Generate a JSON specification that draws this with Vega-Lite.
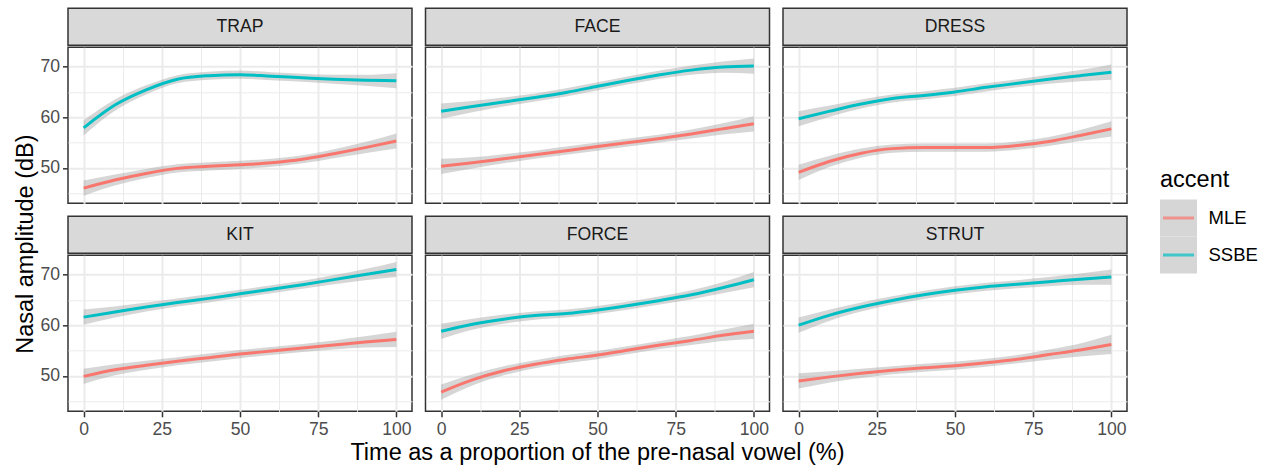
{
 "$schema": "https://vega.github.io/schema/vega-lite/v6.json",
 "padding": {"left": 13, "top": 7, "right": 5, "bottom": 0},
 "config": {
  "font": "Liberation Sans",
  "view": {"stroke": "#333333", "strokeWidth": 1.5},
  "axis": {"domain": false, "labelFont": "Liberation Sans", "labelFontSize": 17.6, "labelColor": "#4D4D4D", "tickColor": "#333333", "tickWidth": 1.5, "tickSize": 5.5, "gridColor": "#EBEBEB", "labelOverlap": false, "labelFlush": false, "labelBound": false},
  "title": {"font": "Liberation Sans", "fontSize": 23.5, "fontWeight": "normal", "color": "#000000"}
 },
 "datasets": {
  "d": [
   {"v":"TRAP","a":"MLE","t":0,"y":46.0,"lo":44.5,"hi":47.5},
   {"v":"TRAP","a":"MLE","t":10,"y":47.6,"lo":46.5,"hi":48.7},
   {"v":"TRAP","a":"MLE","t":20,"y":48.9,"lo":48.0,"hi":49.8},
   {"v":"TRAP","a":"MLE","t":30,"y":49.9,"lo":49.1,"hi":50.7},
   {"v":"TRAP","a":"MLE","t":40,"y":50.3,"lo":49.5,"hi":51.1},
   {"v":"TRAP","a":"MLE","t":50,"y":50.6,"lo":49.8,"hi":51.4},
   {"v":"TRAP","a":"MLE","t":60,"y":51.0,"lo":50.2,"hi":51.8},
   {"v":"TRAP","a":"MLE","t":70,"y":51.7,"lo":50.9,"hi":52.5},
   {"v":"TRAP","a":"MLE","t":80,"y":52.8,"lo":51.9,"hi":53.7},
   {"v":"TRAP","a":"MLE","t":90,"y":54.0,"lo":52.9,"hi":55.1},
   {"v":"TRAP","a":"MLE","t":100,"y":55.3,"lo":53.8,"hi":56.8},
   {"v":"TRAP","a":"SSBE","t":0,"y":57.9,"lo":56.4,"hi":59.4},
   {"v":"TRAP","a":"SSBE","t":10,"y":62.4,"lo":61.3,"hi":63.5},
   {"v":"TRAP","a":"SSBE","t":20,"y":65.4,"lo":64.5,"hi":66.3},
   {"v":"TRAP","a":"SSBE","t":30,"y":67.5,"lo":66.7,"hi":68.3},
   {"v":"TRAP","a":"SSBE","t":40,"y":68.2,"lo":67.4,"hi":69.0},
   {"v":"TRAP","a":"SSBE","t":50,"y":68.4,"lo":67.6,"hi":69.2},
   {"v":"TRAP","a":"SSBE","t":60,"y":68.1,"lo":67.3,"hi":68.9},
   {"v":"TRAP","a":"SSBE","t":70,"y":67.8,"lo":67.0,"hi":68.6},
   {"v":"TRAP","a":"SSBE","t":80,"y":67.5,"lo":66.6,"hi":68.4},
   {"v":"TRAP","a":"SSBE","t":90,"y":67.3,"lo":66.2,"hi":68.4},
   {"v":"TRAP","a":"SSBE","t":100,"y":67.2,"lo":65.7,"hi":68.7},
   {"v":"FACE","a":"MLE","t":0,"y":50.3,"lo":48.8,"hi":51.8},
   {"v":"FACE","a":"MLE","t":10,"y":51.0,"lo":49.9,"hi":52.1},
   {"v":"FACE","a":"MLE","t":20,"y":51.8,"lo":50.9,"hi":52.7},
   {"v":"FACE","a":"MLE","t":30,"y":52.6,"lo":51.8,"hi":53.4},
   {"v":"FACE","a":"MLE","t":40,"y":53.4,"lo":52.6,"hi":54.2},
   {"v":"FACE","a":"MLE","t":50,"y":54.2,"lo":53.4,"hi":55.0},
   {"v":"FACE","a":"MLE","t":60,"y":55.0,"lo":54.2,"hi":55.8},
   {"v":"FACE","a":"MLE","t":70,"y":55.8,"lo":55.0,"hi":56.6},
   {"v":"FACE","a":"MLE","t":80,"y":56.7,"lo":55.8,"hi":57.6},
   {"v":"FACE","a":"MLE","t":90,"y":57.7,"lo":56.6,"hi":58.8},
   {"v":"FACE","a":"MLE","t":100,"y":58.7,"lo":57.2,"hi":60.2},
   {"v":"FACE","a":"SSBE","t":0,"y":61.2,"lo":59.7,"hi":62.7},
   {"v":"FACE","a":"SSBE","t":10,"y":62.1,"lo":61.0,"hi":63.2},
   {"v":"FACE","a":"SSBE","t":20,"y":63.0,"lo":62.1,"hi":63.9},
   {"v":"FACE","a":"SSBE","t":30,"y":63.9,"lo":63.1,"hi":64.7},
   {"v":"FACE","a":"SSBE","t":40,"y":64.9,"lo":64.1,"hi":65.7},
   {"v":"FACE","a":"SSBE","t":50,"y":66.1,"lo":65.3,"hi":66.9},
   {"v":"FACE","a":"SSBE","t":60,"y":67.3,"lo":66.5,"hi":68.1},
   {"v":"FACE","a":"SSBE","t":70,"y":68.4,"lo":67.6,"hi":69.2},
   {"v":"FACE","a":"SSBE","t":80,"y":69.3,"lo":68.4,"hi":70.2},
   {"v":"FACE","a":"SSBE","t":90,"y":69.9,"lo":68.8,"hi":71.0},
   {"v":"FACE","a":"SSBE","t":100,"y":70.1,"lo":68.6,"hi":71.6},
   {"v":"DRESS","a":"MLE","t":0,"y":49.1,"lo":47.6,"hi":50.6},
   {"v":"DRESS","a":"MLE","t":10,"y":51.3,"lo":50.2,"hi":52.4},
   {"v":"DRESS","a":"MLE","t":20,"y":52.9,"lo":52.0,"hi":53.8},
   {"v":"DRESS","a":"MLE","t":30,"y":53.8,"lo":53.0,"hi":54.6},
   {"v":"DRESS","a":"MLE","t":40,"y":54.0,"lo":53.2,"hi":54.8},
   {"v":"DRESS","a":"MLE","t":50,"y":54.0,"lo":53.2,"hi":54.8},
   {"v":"DRESS","a":"MLE","t":60,"y":54.0,"lo":53.2,"hi":54.8},
   {"v":"DRESS","a":"MLE","t":70,"y":54.4,"lo":53.6,"hi":55.2},
   {"v":"DRESS","a":"MLE","t":80,"y":55.2,"lo":54.3,"hi":56.1},
   {"v":"DRESS","a":"MLE","t":90,"y":56.4,"lo":55.3,"hi":57.5},
   {"v":"DRESS","a":"MLE","t":100,"y":57.7,"lo":56.2,"hi":59.2},
   {"v":"DRESS","a":"SSBE","t":0,"y":59.7,"lo":58.2,"hi":61.2},
   {"v":"DRESS","a":"SSBE","t":10,"y":61.2,"lo":60.1,"hi":62.3},
   {"v":"DRESS","a":"SSBE","t":20,"y":62.6,"lo":61.7,"hi":63.5},
   {"v":"DRESS","a":"SSBE","t":30,"y":63.7,"lo":62.9,"hi":64.5},
   {"v":"DRESS","a":"SSBE","t":40,"y":64.3,"lo":63.5,"hi":65.1},
   {"v":"DRESS","a":"SSBE","t":50,"y":65.0,"lo":64.2,"hi":65.8},
   {"v":"DRESS","a":"SSBE","t":60,"y":65.9,"lo":65.1,"hi":66.7},
   {"v":"DRESS","a":"SSBE","t":70,"y":66.7,"lo":65.9,"hi":67.5},
   {"v":"DRESS","a":"SSBE","t":80,"y":67.5,"lo":66.6,"hi":68.4},
   {"v":"DRESS","a":"SSBE","t":90,"y":68.2,"lo":67.1,"hi":69.3},
   {"v":"DRESS","a":"SSBE","t":100,"y":68.9,"lo":67.4,"hi":70.4},
   {"v":"KIT","a":"MLE","t":0,"y":49.9,"lo":48.4,"hi":51.4},
   {"v":"KIT","a":"MLE","t":10,"y":51.2,"lo":50.1,"hi":52.3},
   {"v":"KIT","a":"MLE","t":20,"y":52.1,"lo":51.2,"hi":53.0},
   {"v":"KIT","a":"MLE","t":30,"y":52.9,"lo":52.1,"hi":53.7},
   {"v":"KIT","a":"MLE","t":40,"y":53.6,"lo":52.8,"hi":54.4},
   {"v":"KIT","a":"MLE","t":50,"y":54.3,"lo":53.5,"hi":55.1},
   {"v":"KIT","a":"MLE","t":60,"y":54.9,"lo":54.1,"hi":55.7},
   {"v":"KIT","a":"MLE","t":70,"y":55.5,"lo":54.7,"hi":56.3},
   {"v":"KIT","a":"MLE","t":80,"y":56.1,"lo":55.2,"hi":57.0},
   {"v":"KIT","a":"MLE","t":90,"y":56.7,"lo":55.6,"hi":57.8},
   {"v":"KIT","a":"MLE","t":100,"y":57.2,"lo":55.7,"hi":58.7},
   {"v":"KIT","a":"SSBE","t":0,"y":61.6,"lo":60.1,"hi":63.1},
   {"v":"KIT","a":"SSBE","t":10,"y":62.6,"lo":61.5,"hi":63.7},
   {"v":"KIT","a":"SSBE","t":20,"y":63.6,"lo":62.7,"hi":64.5},
   {"v":"KIT","a":"SSBE","t":30,"y":64.5,"lo":63.7,"hi":65.3},
   {"v":"KIT","a":"SSBE","t":40,"y":65.3,"lo":64.5,"hi":66.1},
   {"v":"KIT","a":"SSBE","t":50,"y":66.2,"lo":65.4,"hi":67.0},
   {"v":"KIT","a":"SSBE","t":60,"y":67.1,"lo":66.3,"hi":67.9},
   {"v":"KIT","a":"SSBE","t":70,"y":68.0,"lo":67.2,"hi":68.8},
   {"v":"KIT","a":"SSBE","t":80,"y":69.0,"lo":68.1,"hi":69.9},
   {"v":"KIT","a":"SSBE","t":90,"y":70.0,"lo":68.9,"hi":71.1},
   {"v":"KIT","a":"SSBE","t":100,"y":71.0,"lo":69.5,"hi":72.5},
   {"v":"FORCE","a":"MLE","t":0,"y":46.8,"lo":45.3,"hi":48.3},
   {"v":"FORCE","a":"MLE","t":10,"y":49.2,"lo":48.1,"hi":50.3},
   {"v":"FORCE","a":"MLE","t":20,"y":51.0,"lo":50.1,"hi":51.9},
   {"v":"FORCE","a":"MLE","t":30,"y":52.3,"lo":51.5,"hi":53.1},
   {"v":"FORCE","a":"MLE","t":40,"y":53.3,"lo":52.5,"hi":54.1},
   {"v":"FORCE","a":"MLE","t":50,"y":54.1,"lo":53.3,"hi":54.9},
   {"v":"FORCE","a":"MLE","t":60,"y":55.1,"lo":54.3,"hi":55.9},
   {"v":"FORCE","a":"MLE","t":70,"y":56.1,"lo":55.3,"hi":56.9},
   {"v":"FORCE","a":"MLE","t":80,"y":57.0,"lo":56.1,"hi":57.9},
   {"v":"FORCE","a":"MLE","t":90,"y":58.0,"lo":56.9,"hi":59.1},
   {"v":"FORCE","a":"MLE","t":100,"y":58.8,"lo":57.3,"hi":60.3},
   {"v":"FORCE","a":"SSBE","t":0,"y":58.8,"lo":57.3,"hi":60.3},
   {"v":"FORCE","a":"SSBE","t":10,"y":60.2,"lo":59.1,"hi":61.3},
   {"v":"FORCE","a":"SSBE","t":20,"y":61.2,"lo":60.3,"hi":62.1},
   {"v":"FORCE","a":"SSBE","t":30,"y":61.9,"lo":61.1,"hi":62.7},
   {"v":"FORCE","a":"SSBE","t":40,"y":62.3,"lo":61.5,"hi":63.1},
   {"v":"FORCE","a":"SSBE","t":50,"y":63.0,"lo":62.2,"hi":63.8},
   {"v":"FORCE","a":"SSBE","t":60,"y":63.9,"lo":63.1,"hi":64.7},
   {"v":"FORCE","a":"SSBE","t":70,"y":64.9,"lo":64.1,"hi":65.7},
   {"v":"FORCE","a":"SSBE","t":80,"y":66.0,"lo":65.1,"hi":66.9},
   {"v":"FORCE","a":"SSBE","t":90,"y":67.4,"lo":66.3,"hi":68.5},
   {"v":"FORCE","a":"SSBE","t":100,"y":69.0,"lo":67.5,"hi":70.5},
   {"v":"STRUT","a":"MLE","t":0,"y":49.0,"lo":47.5,"hi":50.5},
   {"v":"STRUT","a":"MLE","t":10,"y":49.8,"lo":48.7,"hi":50.9},
   {"v":"STRUT","a":"MLE","t":20,"y":50.5,"lo":49.6,"hi":51.4},
   {"v":"STRUT","a":"MLE","t":30,"y":51.1,"lo":50.3,"hi":51.9},
   {"v":"STRUT","a":"MLE","t":40,"y":51.6,"lo":50.8,"hi":52.4},
   {"v":"STRUT","a":"MLE","t":50,"y":52.0,"lo":51.2,"hi":52.8},
   {"v":"STRUT","a":"MLE","t":60,"y":52.6,"lo":51.8,"hi":53.4},
   {"v":"STRUT","a":"MLE","t":70,"y":53.3,"lo":52.5,"hi":54.1},
   {"v":"STRUT","a":"MLE","t":80,"y":54.2,"lo":53.2,"hi":55.2},
   {"v":"STRUT","a":"MLE","t":90,"y":55.1,"lo":53.8,"hi":56.4},
   {"v":"STRUT","a":"MLE","t":100,"y":56.2,"lo":54.3,"hi":58.1},
   {"v":"STRUT","a":"SSBE","t":0,"y":60.0,"lo":58.5,"hi":61.5},
   {"v":"STRUT","a":"SSBE","t":10,"y":62.0,"lo":60.9,"hi":63.1},
   {"v":"STRUT","a":"SSBE","t":20,"y":63.6,"lo":62.7,"hi":64.5},
   {"v":"STRUT","a":"SSBE","t":30,"y":64.9,"lo":64.1,"hi":65.7},
   {"v":"STRUT","a":"SSBE","t":40,"y":66.0,"lo":65.2,"hi":66.8},
   {"v":"STRUT","a":"SSBE","t":50,"y":66.9,"lo":66.1,"hi":67.7},
   {"v":"STRUT","a":"SSBE","t":60,"y":67.6,"lo":66.8,"hi":68.4},
   {"v":"STRUT","a":"SSBE","t":70,"y":68.1,"lo":67.3,"hi":68.9},
   {"v":"STRUT","a":"SSBE","t":80,"y":68.6,"lo":67.7,"hi":69.5},
   {"v":"STRUT","a":"SSBE","t":90,"y":69.1,"lo":68.0,"hi":70.2},
   {"v":"STRUT","a":"SSBE","t":100,"y":69.5,"lo":68.0,"hi":71.0}
  ]
 },
 "spacing": 32,
 "center": true,
 "hconcat": [
  {
   "title": {"text": "Nasal amplitude (dB)", "orient": "left", "anchor": "middle", "offset": 2, "dx": -8},
   "vconcat": [
    {
     "title": {"text": "Time as a proportion of the pre-nasal vowel (%)", "orient": "bottom", "anchor": "middle", "offset": 2, "dx": 14},
     "spacing": 11,
     "vconcat": [
      {
       "spacing": 11.5,
       "hconcat": [
        {
         "spacing": 0,
         "vconcat": [
          {"width": 344, "height": 37, "view": {"fill": "#D9D9D9", "stroke": "#333333", "strokeWidth": 1.5},
           "data": {"values": [{"label": "TRAP"}]},
           "mark": {"type": "text", "fontSize": 17.6, "color": "#1A1A1A", "font": "Liberation Sans"},
           "encoding": {"text": {"field": "label", "type": "nominal"}}},
          {"width": 344, "height": 156, "data": {"name": "d"},
           "transform": [{"filter": "datum.v === 'TRAP'"}],
           "encoding": {"x": {"field": "t", "type": "quantitative", "scale": {"domain": [-5, 105], "nice": false, "zero": false},
             "axis": {"values": [0, 12.5, 25, 37.5, 50, 62.5, 75, 87.5, 100], "title": null, "labels": false, "ticks": false, "gridWidth": {"condition": {"test": "datum.value % 25 === 0", "value": 2}, "value": 1}}}},
           "layer": [
            {"mark": {"type": "area", "color": "#999999", "opacity": 0.4, "interpolate": "monotone"},
             "encoding": {"y": {"field": "lo", "type": "quantitative", "scale": {"domain": [43, 73.8], "nice": false, "zero": false},
               "axis": {"values": [45, 50, 55, 60, 65, 70], "title": null, "labelPadding": 3, "labelExpr": "datum.value % 10 === 0 ? datum.label : ''", "tickOpacity": {"condition": {"test": "datum.value % 10 === 0", "value": 1}, "value": 0}, "gridWidth": {"condition": {"test": "datum.value % 10 === 0", "value": 2}, "value": 1}}},
              "y2": {"field": "hi"}, "detail": {"field": "a"}}},
            {"mark": {"type": "line", "strokeWidth": 3, "interpolate": "monotone"},
             "encoding": {"y": {"field": "y", "type": "quantitative", "scale": {"domain": [43, 73.8], "nice": false, "zero": false},
               "axis": {"values": [45, 50, 55, 60, 65, 70], "title": null, "labelPadding": 3, "labelExpr": "datum.value % 10 === 0 ? datum.label : ''", "tickOpacity": {"condition": {"test": "datum.value % 10 === 0", "value": 1}, "value": 0}, "gridWidth": {"condition": {"test": "datum.value % 10 === 0", "value": 2}, "value": 1}}},
              "color": {"field": "a", "type": "nominal", "scale": {"domain": ["MLE", "SSBE"], "range": ["#F8766D", "#00BFC4"]}, "legend": null}}}
           ]}
         ]
        },
        {
         "spacing": 0,
         "vconcat": [
          {"width": 344, "height": 37, "view": {"fill": "#D9D9D9", "stroke": "#333333", "strokeWidth": 1.5},
           "data": {"values": [{"label": "FACE"}]},
           "mark": {"type": "text", "fontSize": 17.6, "color": "#1A1A1A", "font": "Liberation Sans"},
           "encoding": {"text": {"field": "label", "type": "nominal"}}},
          {"width": 344, "height": 156, "data": {"name": "d"},
           "transform": [{"filter": "datum.v === 'FACE'"}],
           "encoding": {"x": {"field": "t", "type": "quantitative", "scale": {"domain": [-5, 105], "nice": false, "zero": false},
             "axis": {"values": [0, 12.5, 25, 37.5, 50, 62.5, 75, 87.5, 100], "title": null, "labels": false, "ticks": false, "gridWidth": {"condition": {"test": "datum.value % 25 === 0", "value": 2}, "value": 1}}}},
           "layer": [
            {"mark": {"type": "area", "color": "#999999", "opacity": 0.4, "interpolate": "monotone"},
             "encoding": {"y": {"field": "lo", "type": "quantitative", "scale": {"domain": [43, 73.8], "nice": false, "zero": false},
               "axis": {"values": [45, 50, 55, 60, 65, 70], "title": null, "labels": false, "ticks": false, "gridWidth": {"condition": {"test": "datum.value % 10 === 0", "value": 2}, "value": 1}}},
              "y2": {"field": "hi"}, "detail": {"field": "a"}}},
            {"mark": {"type": "line", "strokeWidth": 3, "interpolate": "monotone"},
             "encoding": {"y": {"field": "y", "type": "quantitative", "scale": {"domain": [43, 73.8], "nice": false, "zero": false},
               "axis": {"values": [45, 50, 55, 60, 65, 70], "title": null, "labels": false, "ticks": false, "gridWidth": {"condition": {"test": "datum.value % 10 === 0", "value": 2}, "value": 1}}},
              "color": {"field": "a", "type": "nominal", "scale": {"domain": ["MLE", "SSBE"], "range": ["#F8766D", "#00BFC4"]}, "legend": null}}}
           ]}
         ]
        },
        {
         "spacing": 0,
         "vconcat": [
          {"width": 344, "height": 37, "view": {"fill": "#D9D9D9", "stroke": "#333333", "strokeWidth": 1.5},
           "data": {"values": [{"label": "DRESS"}]},
           "mark": {"type": "text", "fontSize": 17.6, "color": "#1A1A1A", "font": "Liberation Sans"},
           "encoding": {"text": {"field": "label", "type": "nominal"}}},
          {"width": 344, "height": 156, "data": {"name": "d"},
           "transform": [{"filter": "datum.v === 'DRESS'"}],
           "encoding": {"x": {"field": "t", "type": "quantitative", "scale": {"domain": [-5, 105], "nice": false, "zero": false},
             "axis": {"values": [0, 12.5, 25, 37.5, 50, 62.5, 75, 87.5, 100], "title": null, "labels": false, "ticks": false, "gridWidth": {"condition": {"test": "datum.value % 25 === 0", "value": 2}, "value": 1}}}},
           "layer": [
            {"mark": {"type": "area", "color": "#999999", "opacity": 0.4, "interpolate": "monotone"},
             "encoding": {"y": {"field": "lo", "type": "quantitative", "scale": {"domain": [43, 73.8], "nice": false, "zero": false},
               "axis": {"values": [45, 50, 55, 60, 65, 70], "title": null, "labels": false, "ticks": false, "gridWidth": {"condition": {"test": "datum.value % 10 === 0", "value": 2}, "value": 1}}},
              "y2": {"field": "hi"}, "detail": {"field": "a"}}},
            {"mark": {"type": "line", "strokeWidth": 3, "interpolate": "monotone"},
             "encoding": {"y": {"field": "y", "type": "quantitative", "scale": {"domain": [43, 73.8], "nice": false, "zero": false},
               "axis": {"values": [45, 50, 55, 60, 65, 70], "title": null, "labels": false, "ticks": false, "gridWidth": {"condition": {"test": "datum.value % 10 === 0", "value": 2}, "value": 1}}},
              "color": {"field": "a", "type": "nominal", "scale": {"domain": ["MLE", "SSBE"], "range": ["#F8766D", "#00BFC4"]}, "legend": null}}}
           ]}
         ]
        }
       ]
      },
      {
       "spacing": 11.5,
       "hconcat": [
        {
         "spacing": 0,
         "vconcat": [
          {"width": 344, "height": 37, "view": {"fill": "#D9D9D9", "stroke": "#333333", "strokeWidth": 1.5},
           "data": {"values": [{"label": "KIT"}]},
           "mark": {"type": "text", "fontSize": 17.6, "color": "#1A1A1A", "font": "Liberation Sans"},
           "encoding": {"text": {"field": "label", "type": "nominal"}}},
          {"width": 344, "height": 156, "data": {"name": "d"},
           "transform": [{"filter": "datum.v === 'KIT'"}],
           "encoding": {"x": {"field": "t", "type": "quantitative", "scale": {"domain": [-5, 105], "nice": false, "zero": false},
             "axis": {"values": [0, 12.5, 25, 37.5, 50, 62.5, 75, 87.5, 100], "title": null, "labelPadding": 4, "labelExpr": "datum.value % 25 === 0 ? datum.label : ''", "tickOpacity": {"condition": {"test": "datum.value % 25 === 0", "value": 1}, "value": 0}, "gridWidth": {"condition": {"test": "datum.value % 25 === 0", "value": 2}, "value": 1}}}},
           "layer": [
            {"mark": {"type": "area", "color": "#999999", "opacity": 0.4, "interpolate": "monotone"},
             "encoding": {"y": {"field": "lo", "type": "quantitative", "scale": {"domain": [43, 73.8], "nice": false, "zero": false},
               "axis": {"values": [45, 50, 55, 60, 65, 70], "title": null, "labelPadding": 3, "labelExpr": "datum.value % 10 === 0 ? datum.label : ''", "tickOpacity": {"condition": {"test": "datum.value % 10 === 0", "value": 1}, "value": 0}, "gridWidth": {"condition": {"test": "datum.value % 10 === 0", "value": 2}, "value": 1}}},
              "y2": {"field": "hi"}, "detail": {"field": "a"}}},
            {"mark": {"type": "line", "strokeWidth": 3, "interpolate": "monotone"},
             "encoding": {"y": {"field": "y", "type": "quantitative", "scale": {"domain": [43, 73.8], "nice": false, "zero": false},
               "axis": {"values": [45, 50, 55, 60, 65, 70], "title": null, "labelPadding": 3, "labelExpr": "datum.value % 10 === 0 ? datum.label : ''", "tickOpacity": {"condition": {"test": "datum.value % 10 === 0", "value": 1}, "value": 0}, "gridWidth": {"condition": {"test": "datum.value % 10 === 0", "value": 2}, "value": 1}}},
              "color": {"field": "a", "type": "nominal", "scale": {"domain": ["MLE", "SSBE"], "range": ["#F8766D", "#00BFC4"]}, "legend": null}}}
           ]}
         ]
        },
        {
         "spacing": 0,
         "vconcat": [
          {"width": 344, "height": 37, "view": {"fill": "#D9D9D9", "stroke": "#333333", "strokeWidth": 1.5},
           "data": {"values": [{"label": "FORCE"}]},
           "mark": {"type": "text", "fontSize": 17.6, "color": "#1A1A1A", "font": "Liberation Sans"},
           "encoding": {"text": {"field": "label", "type": "nominal"}}},
          {"width": 344, "height": 156, "data": {"name": "d"},
           "transform": [{"filter": "datum.v === 'FORCE'"}],
           "encoding": {"x": {"field": "t", "type": "quantitative", "scale": {"domain": [-5, 105], "nice": false, "zero": false},
             "axis": {"values": [0, 12.5, 25, 37.5, 50, 62.5, 75, 87.5, 100], "title": null, "labelPadding": 4, "labelExpr": "datum.value % 25 === 0 ? datum.label : ''", "tickOpacity": {"condition": {"test": "datum.value % 25 === 0", "value": 1}, "value": 0}, "gridWidth": {"condition": {"test": "datum.value % 25 === 0", "value": 2}, "value": 1}}}},
           "layer": [
            {"mark": {"type": "area", "color": "#999999", "opacity": 0.4, "interpolate": "monotone"},
             "encoding": {"y": {"field": "lo", "type": "quantitative", "scale": {"domain": [43, 73.8], "nice": false, "zero": false},
               "axis": {"values": [45, 50, 55, 60, 65, 70], "title": null, "labels": false, "ticks": false, "gridWidth": {"condition": {"test": "datum.value % 10 === 0", "value": 2}, "value": 1}}},
              "y2": {"field": "hi"}, "detail": {"field": "a"}}},
            {"mark": {"type": "line", "strokeWidth": 3, "interpolate": "monotone"},
             "encoding": {"y": {"field": "y", "type": "quantitative", "scale": {"domain": [43, 73.8], "nice": false, "zero": false},
               "axis": {"values": [45, 50, 55, 60, 65, 70], "title": null, "labels": false, "ticks": false, "gridWidth": {"condition": {"test": "datum.value % 10 === 0", "value": 2}, "value": 1}}},
              "color": {"field": "a", "type": "nominal", "scale": {"domain": ["MLE", "SSBE"], "range": ["#F8766D", "#00BFC4"]}, "legend": null}}}
           ]}
         ]
        },
        {
         "spacing": 0,
         "vconcat": [
          {"width": 344, "height": 37, "view": {"fill": "#D9D9D9", "stroke": "#333333", "strokeWidth": 1.5},
           "data": {"values": [{"label": "STRUT"}]},
           "mark": {"type": "text", "fontSize": 17.6, "color": "#1A1A1A", "font": "Liberation Sans"},
           "encoding": {"text": {"field": "label", "type": "nominal"}}},
          {"width": 344, "height": 156, "data": {"name": "d"},
           "transform": [{"filter": "datum.v === 'STRUT'"}],
           "encoding": {"x": {"field": "t", "type": "quantitative", "scale": {"domain": [-5, 105], "nice": false, "zero": false},
             "axis": {"values": [0, 12.5, 25, 37.5, 50, 62.5, 75, 87.5, 100], "title": null, "labelPadding": 4, "labelExpr": "datum.value % 25 === 0 ? datum.label : ''", "tickOpacity": {"condition": {"test": "datum.value % 25 === 0", "value": 1}, "value": 0}, "gridWidth": {"condition": {"test": "datum.value % 25 === 0", "value": 2}, "value": 1}}}},
           "layer": [
            {"mark": {"type": "area", "color": "#999999", "opacity": 0.4, "interpolate": "monotone"},
             "encoding": {"y": {"field": "lo", "type": "quantitative", "scale": {"domain": [43, 73.8], "nice": false, "zero": false},
               "axis": {"values": [45, 50, 55, 60, 65, 70], "title": null, "labels": false, "ticks": false, "gridWidth": {"condition": {"test": "datum.value % 10 === 0", "value": 2}, "value": 1}}},
              "y2": {"field": "hi"}, "detail": {"field": "a"}}},
            {"mark": {"type": "line", "strokeWidth": 3, "interpolate": "monotone"},
             "encoding": {"y": {"field": "y", "type": "quantitative", "scale": {"domain": [43, 73.8], "nice": false, "zero": false},
               "axis": {"values": [45, 50, 55, 60, 65, 70], "title": null, "labels": false, "ticks": false, "gridWidth": {"condition": {"test": "datum.value % 10 === 0", "value": 2}, "value": 1}}},
              "color": {"field": "a", "type": "nominal", "scale": {"domain": ["MLE", "SSBE"], "range": ["#F8766D", "#00BFC4"]}, "legend": null}}}
           ]}
         ]
        }
       ]
      }
     ]
    }
   ]
  },
  {
   "width": 37, "height": 74,
   "title": {"text": "accent", "anchor": "start", "fontSize": 23.5, "offset": 8},
   "view": {"stroke": null},
   "data": {"values": [{"a": "MLE"}, {"a": "SSBE"}]},
   "layer": [
    {"mark": {"type": "rect", "color": "#D6D6D6"},
     "encoding": {"y": {"field": "a", "type": "nominal", "scale": {"paddingInner": 0, "paddingOuter": 0},
       "axis": {"orient": "right", "title": null, "ticks": false, "grid": false, "labelPadding": 11, "labelColor": "#000000", "labelFontSize": 18.5}}}},
    {"mark": {"type": "tick", "orient": "horizontal", "thickness": 3, "size": 31},
     "encoding": {"y": {"field": "a", "type": "nominal",
       "axis": {"orient": "right", "title": null, "ticks": false, "grid": false, "labelPadding": 11, "labelColor": "#000000", "labelFontSize": 18.5}},
      "color": {"field": "a", "type": "nominal", "scale": {"domain": ["MLE", "SSBE"], "range": ["#F8766D", "#00BFC4"]}, "legend": null}}}
   ]
  }
 ]
}
